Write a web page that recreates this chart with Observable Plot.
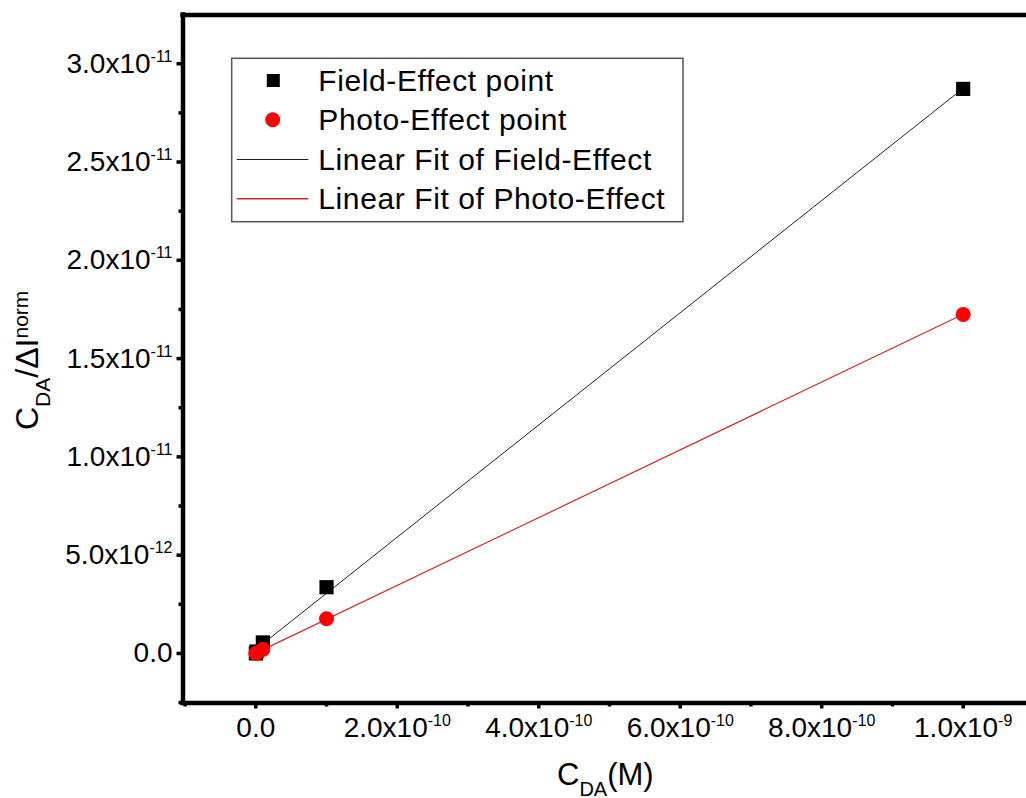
<!DOCTYPE html>
<html>
<head>
<meta charset="utf-8">
<script src="https://cdn.jsdelivr.net/npm/d3@7"></script>
<script src="https://cdn.jsdelivr.net/npm/@observablehq/plot@0.6"></script>
<style>
html, body { margin: 0; padding: 0; background: #fff; overflow: hidden; }
#chart { position: relative; width: 1026px; height: 798px; }
</style>
</head>
<body>
<div id="chart"></div>
<script>
// ---- data ----
const concentrations = [1e-13, 1e-12, 1e-11, 1e-10, 1e-9];      // C_DA (M)
const fieldEffect    = [2e-15, 1e-13, 5.6e-13, 3.37e-12, 2.872e-11];
const photoEffect    = [1.5e-15, 2e-14, 2.0e-13, 1.765e-12, 1.725e-11];

const xMajorTicks = [0, 2e-10, 4e-10, 6e-10, 8e-10, 1e-9];
const xMinorTicks = [-1e-10, 1e-10, 3e-10, 5e-10, 7e-10, 9e-10];
const xTickLabels = ["0.0", "2.0x10^-10", "4.0x10^-10", "6.0x10^-10", "8.0x10^-10", "1.0x10^-9"];

const yMajorTicks = [0, 5e-12, 1e-11, 1.5e-11, 2e-11, 2.5e-11, 3e-11];
const yMinorTicks = [-2.5e-12, 2.5e-12, 7.5e-12, 1.25e-11, 1.75e-11, 2.25e-11, 2.75e-11];
const yTickLabels = ["0.0", "5.0x10^-12", "1.0x10^-11", "1.5x10^-11", "2.0x10^-11", "2.5x10^-11", "3.0x10^-11"];

const xDomain = [-1.029e-10, 1.0895e-9];
const yDomain = [-2.52e-12, 3.248e-11];

const legendLabels  = ["Field-Effect point", "Photo-Effect point", "Linear Fit of Field-Effect", "Linear Fit of Photo-Effect"];
const legendSymbols = ["square", "circle", "line", "line"];
const pointColor = { field: "#000000", photo: "#ff0000" };
const lineColor  = { field: "#222222", photo: "#cc2a2a" };
const legendColors = [pointColor.field, pointColor.photo, lineColor.field, lineColor.photo];

// ---- build tables ----
const fieldData = concentrations.map((x, i) => ({ x, y: fieldEffect[i] }));
const photoData = concentrations.map((x, i) => ({ x, y: photoEffect[i] }));

function linearFit(data) {
  const mx = d3.mean(data, d => d.x), my = d3.mean(data, d => d.y);
  let sxy = 0, sxx = 0;
  for (const d of data) { sxy += (d.x - mx) * (d.y - my); sxx += (d.x - mx) ** 2; }
  const b = sxy / sxx, a = my - b * mx;
  const [x0, x1] = d3.extent(data, d => d.x);
  return [{ x: x0, y: a + b * x0 }, { x: x1, y: a + b * x1 }];
}
const fieldFit = linearFit(fieldData);
const photoFit = linearFit(photoData);

const FONT = "'Liberation Sans', Arial, Helvetica, sans-serif";

const svg = Plot.plot({
  width: 1026,
  height: 798,
  marginLeft: 182.5,
  marginRight: 0,
  marginTop: 14.5,
  marginBottom: 95.5,
  x: { domain: xDomain },
  y: { domain: yDomain },
  style: { fontFamily: FONT, fontSize: "28px", color: "#000", background: "#fff", overflow: "visible" },
  marks: [
    // minor ticks
    Plot.axisX({ ticks: xMinorTicks, tickSize: 4, tickFormat: () => "", strokeWidth: 3.5, label: null }),
    Plot.axisY({ ticks: yMinorTicks, tickSize: 4, tickFormat: () => "", strokeWidth: 3.5, label: null }),
    // major ticks + labels
    Plot.axisX({ ticks: xMajorTicks, tickSize: 6, tickPadding: 8.5, strokeWidth: 3.5, label: null,
      fontSize: 28, tickFormat: d => xTickLabels[xMajorTicks.indexOf(d)] }),
    Plot.axisY({ ticks: yMajorTicks, tickSize: 6, tickPadding: 4.5, strokeWidth: 3.5, label: null,
      fontSize: 28, tickFormat: d => yTickLabels[yMajorTicks.indexOf(d)] }),
    // frame (top, left, bottom; right edge lies outside the picture)
    Plot.ruleY([yDomain[1]], { stroke: "#000", strokeWidth: 4.5, strokeLinecap: "square" }),
    Plot.ruleY([yDomain[0]], { stroke: "#000", strokeWidth: 4.5, strokeLinecap: "square" }),
    Plot.ruleX([xDomain[0]], { stroke: "#000", strokeWidth: 4.5, strokeLinecap: "square" }),
    // fits
    Plot.line(fieldFit, { x: "x", y: "y", stroke: lineColor.field, strokeWidth: 1 }),
    Plot.line(photoFit, { x: "x", y: "y", stroke: lineColor.photo, strokeWidth: 1.2 }),
    // points
    Plot.dot(fieldData, { x: "x", y: "y", symbol: "square", r: 8, fill: pointColor.field, stroke: "none" }),
    Plot.dot(photoData, { x: "x", y: "y", symbol: "circle", r: 7.5, fill: pointColor.photo, stroke: "none" })
  ]
});

const s = d3.select(svg);

// superscript exponents in tick labels
s.selectAll('g[aria-label="x-axis tick label"] text, g[aria-label="y-axis tick label"] text').each(function () {
  const t = d3.select(this);
  const str = t.text();
  t.attr("font-size", 28).attr("font-family", FONT);
  if (!str.includes("^")) return;
  const [base, exp] = str.split("^");
  t.text(null);
  t.append("tspan").attr("font-size", 28).text(base);
  t.append("tspan").attr("dy", -11).attr("font-size", 16).text(exp);
});

// axis titles
const xt = s.append("text").attr("x", 557).attr("y", 785).attr("text-anchor", "start")
  .attr("font-family", FONT).attr("fill", "#000");
xt.append("tspan").attr("font-size", 31).text("C");
xt.append("tspan").attr("font-size", 20).attr("dy", 11).text("DA");
xt.append("tspan").attr("font-size", 31).attr("dy", -11).text("(M)");

const yt = s.append("text").attr("transform", "translate(38,430) rotate(-90)").attr("text-anchor", "start")
  .attr("font-family", FONT).attr("fill", "#000");
yt.append("tspan").attr("font-size", 32).text("C");
yt.append("tspan").attr("font-size", 21).attr("dy", 12).text("DA");
yt.append("tspan").attr("font-size", 32).attr("dy", -12).text("/ΔI");
yt.append("tspan").attr("font-size", 21).attr("dy", -10).text("norm");

// legend
const lg = s.append("g").attr("font-family", FONT).attr("text-anchor", "start");
lg.append("rect").attr("x", 231.7).attr("y", 58.3).attr("width", 451.3).attr("height", 163.4)
  .attr("fill", "#fff").attr("stroke", "#555").attr("stroke-width", 1.5);
const rowBase = [91, 130.3, 170, 209.3];
legendLabels.forEach((lab, i) => {
  const cy = rowBase[i] - 10.5;
  const sym = legendSymbols[i], col = legendColors[i];
  if (sym === "square") {
    lg.append("rect").attr("x", 273.3 - 6.5).attr("y", cy - 6.5).attr("width", 13).attr("height", 13).attr("fill", col);
  } else if (sym === "circle") {
    lg.append("circle").attr("cx", 272.7).attr("cy", cy).attr("r", 7.5).attr("fill", col);
  } else {
    lg.append("line").attr("x1", 236.7).attr("x2", 308.3).attr("y1", cy).attr("y2", cy)
      .attr("stroke", col).attr("stroke-width", i === 3 ? 1.4 : 1.2);
  }
  lg.append("text").attr("x", 318.3).attr("y", rowBase[i]).attr("font-size", 30).attr("text-anchor", "start")
    .attr("letter-spacing", 0.6).attr("fill", "#000").text(lab);
});

document.getElementById("chart").appendChild(svg);
</script>
</body>
</html>
